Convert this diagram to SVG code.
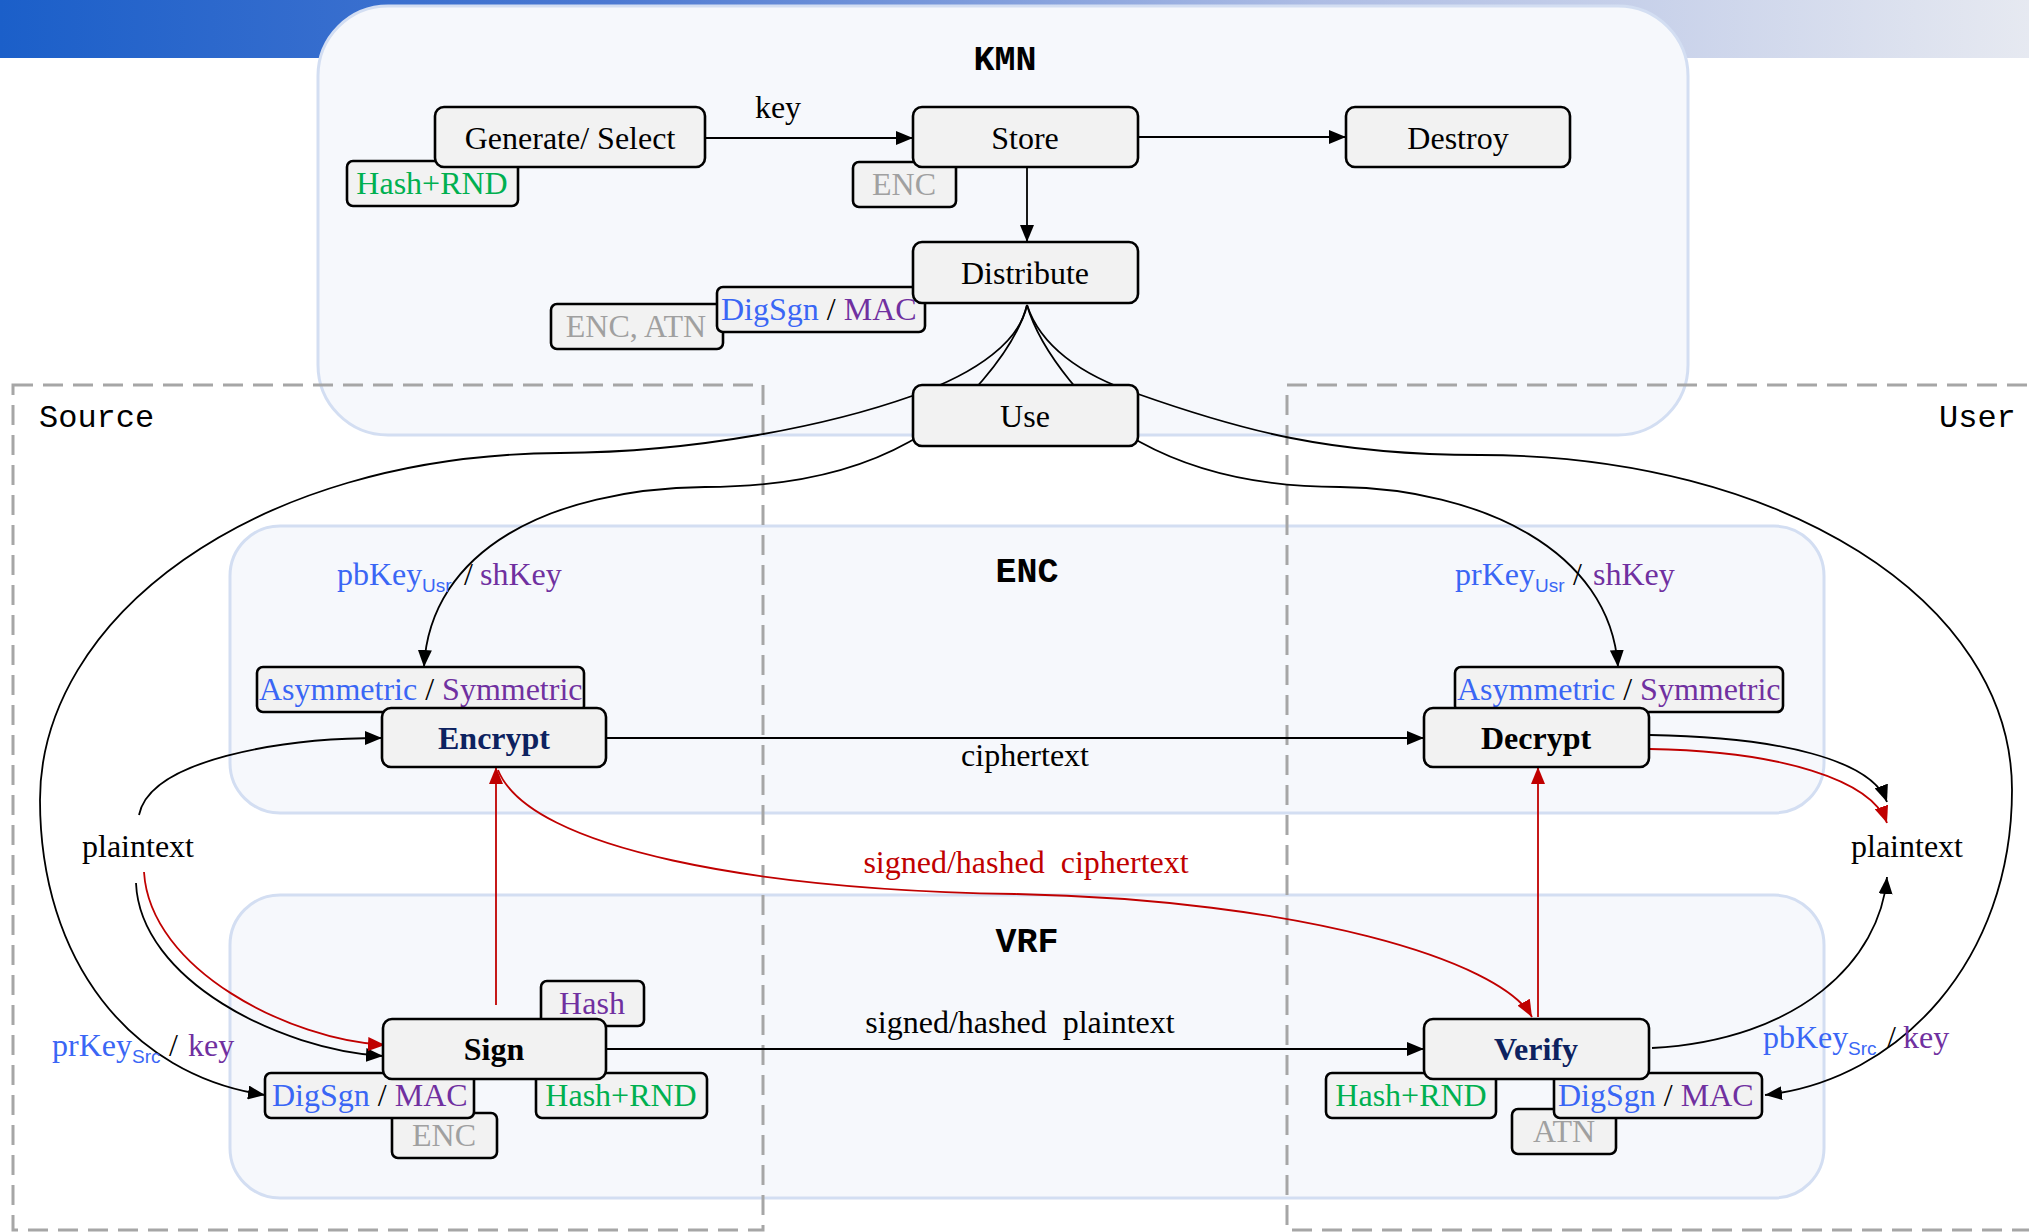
<svg xmlns="http://www.w3.org/2000/svg" width="2029" height="1232" viewBox="0 0 2029 1232">
<defs>
<linearGradient id="hdr" x1="0" y1="0" x2="1" y2="0">
<stop offset="0" stop-color="#1b5fc9"/>
<stop offset="0.3" stop-color="#4c79d2"/>
<stop offset="0.65" stop-color="#aebde4"/>
<stop offset="1" stop-color="#e6e9f1"/>
</linearGradient>
<marker id="ab" markerUnits="userSpaceOnUse" markerWidth="18" markerHeight="14" refX="17" refY="7" orient="auto"><path d="M0,0 L17,7 L0,14 z" fill="#000"/></marker>
<marker id="ar" markerUnits="userSpaceOnUse" markerWidth="18" markerHeight="14" refX="17" refY="7" orient="auto"><path d="M0,0 L17,7 L0,14 z" fill="#c00000"/></marker>
</defs>
<style>
.cont{fill:#f6f8fc;stroke:#d3def2;stroke-width:3}
.dash{fill:none;stroke:#a6a6a6;stroke-width:3;stroke-dasharray:20 10}
.box{fill:#f2f2f2;stroke:#000;stroke-width:2.6}
.t{font-family:"Liberation Serif","Times New Roman",serif;font-size:32px;fill:#000}
.m{text-anchor:middle}
.b{font-weight:bold}
.nv{fill:#0d2260}
.mono{font-family:"Liberation Mono","Courier New",monospace;font-size:32px;fill:#000}
.hd{font-weight:bold;font-size:35px;text-anchor:middle}
.bl{fill:#3a66f5}
.pu{fill:#7030a0}
.gr{fill:#00b050}
.gy{fill:#a0a0a0}
.rd{fill:#c00000}
.sub{font-family:"Liberation Sans",Arial,sans-serif;font-size:19px}
.e{fill:none;stroke:#000;stroke-width:1.8}
.er{fill:none;stroke:#c00000;stroke-width:1.8}
</style>
<rect x="0" y="0" width="2029" height="58" fill="url(#hdr)"/>

<g id="containers">
<rect id="kmn" class="cont" x="318" y="6" width="1370" height="429" rx="70"/>
<rect id="enc" class="cont" x="230" y="526" width="1594" height="287" rx="50"/>
<rect id="vrf" class="cont" x="230" y="895" width="1594" height="303" rx="50"/>
<text class="mono hd" x="1005" y="70">KMN</text>
<text class="mono hd" x="1027" y="582">ENC</text>
<text class="mono hd" x="1027" y="952">VRF</text>
</g>

<g id="zones">
<rect id="source" class="dash" x="13" y="385" width="750" height="845"/>
<rect id="user" class="dash" x="1287" y="385" width="760" height="845"/>
<text class="mono" x="39" y="427">Source</text>
<text class="mono" x="1939" y="427">User</text>
</g>

<g id="connectors">
<path class="e" d="M705,138 L913,138" marker-end="url(#ab)"/>
<text class="t m" x="778" y="118">key</text>
<path class="e" d="M1138,137 L1346,137" marker-end="url(#ab)"/>
<path class="e" d="M1027,167 L1027,242" marker-end="url(#ab)"/>
<path class="e" d="M1027,305 C1020,340 980,372 912,396 C830,425 700,452 560,453 C250,455 40,620 40,800 C40,960 130,1075 265,1095" marker-end="url(#ab)"/>
<path class="e" d="M1027,305 C1015,350 960,415 909,442 C850,475 780,487 705,487 C550,489 430,550 424,667" marker-end="url(#ab)"/>
<path class="e" d="M1027,305 C1040,350 1090,415 1140,442 C1200,475 1270,487 1340,487 C1480,489 1610,550 1618,667" marker-end="url(#ab)"/>
<path class="e" d="M1027,305 C1040,345 1080,375 1138,394 C1240,430 1330,455 1480,455 C1780,455 2012,600 2012,790 C2012,960 1900,1080 1765,1095" marker-end="url(#ab)"/>
<path class="e" d="M606,738 L1424,738" stroke-width="2.4" marker-end="url(#ab)"/>
<text class="t m" x="1025" y="766">ciphertext</text>
<path class="e" d="M606,1049 L1424,1049" stroke-width="2.4" marker-end="url(#ab)"/>
<text class="t m" x="1020" y="1033">signed/hashed&#160; plaintext</text>
<path class="e" d="M139,815 C150,760 280,738 382,738" marker-end="url(#ab)"/>
<path class="e" d="M136,883 C140,980 280,1050 383,1056" marker-end="url(#ab)"/>
<path class="er" d="M144,872 C150,970 290,1040 385,1045" marker-end="url(#ar)"/>
<path class="er" d="M496,1005 L496,767" marker-end="url(#ar)"/>
<path class="er" d="M498,770 C530,850 760,890 1015,894 C1300,900 1500,960 1532,1017" marker-end="url(#ar)"/>
<text class="t m rd" x="1026" y="873">signed/hashed&#160; ciphertext</text>
<path class="er" d="M1538,1017 L1538,767" marker-end="url(#ar)"/>
<path class="e" d="M1650,735 C1780,737 1872,760 1887,802" marker-end="url(#ab)"/>
<path class="er" d="M1650,749 C1780,751 1872,780 1887,823" marker-end="url(#ar)"/>
<path class="e" d="M1652,1048 C1800,1040 1880,960 1887,877" marker-end="url(#ab)"/>
<text class="t m" x="138" y="857">plaintext</text>
<text class="t m" x="1907" y="857">plaintext</text>
<text class="t"><tspan class="bl" x="337" y="585">pbKey</tspan><tspan class="bl sub" x="422" y="592">Usr</tspan><tspan x="464" y="585">/</tspan><tspan class="pu" x="480" y="585">shKey</tspan></text>
<text class="t"><tspan class="bl" x="1455" y="585">prKey</tspan><tspan class="bl sub" x="1535" y="592">Usr</tspan><tspan x="1573" y="585">/</tspan><tspan class="pu" x="1593" y="585">shKey</tspan></text>
<text class="t"><tspan class="bl" x="52" y="1056">prKey</tspan><tspan class="bl sub" x="132" y="1063">Src</tspan><tspan x="169" y="1056">/</tspan><tspan class="pu" x="188" y="1056">key</tspan></text>
<text class="t"><tspan class="bl" x="1763" y="1048">pbKey</tspan><tspan class="bl sub" x="1848" y="1055">Src</tspan><tspan x="1887" y="1048">/</tspan><tspan class="pu" x="1903" y="1048">key</tspan></text>
</g>

<g id="generate">
<rect class="box" x="347" y="161" width="171" height="45" rx="6"/>
<text class="t m gr" x="432" y="194">Hash+RND</text>
<rect class="box" x="435" y="107" width="270" height="60" rx="9"/>
<text class="t m" x="570" y="149">Generate/ Select</text>
</g>
<g id="store">
<rect class="box" x="853" y="162" width="103" height="45" rx="6"/>
<text class="t m gy" x="904" y="195">ENC</text>
<rect class="box" x="913" y="107" width="225" height="60" rx="9"/>
<text class="t m" x="1025" y="149">Store</text>
</g>
<g id="destroy">
<rect class="box" x="1346" y="107" width="224" height="60" rx="9"/>
<text class="t m" x="1458" y="149">Destroy</text>
</g>
<g id="distribute">
<rect class="box" x="551" y="304" width="172" height="45" rx="6"/>
<text class="t m gy" x="636" y="337">ENC, ATN</text>
<rect class="box" x="717" y="287" width="208" height="45" rx="6"/>
<text class="t" x="721" y="320"><tspan class="bl">DigSgn</tspan> / <tspan class="pu">MAC</tspan></text>
<rect class="box" x="913" y="242" width="225" height="61" rx="9"/>
<text class="t m" x="1025" y="284">Distribute</text>
</g>
<g id="use">
<rect class="box" x="913" y="385" width="225" height="61" rx="9"/>
<text class="t m" x="1025" y="427">Use</text>
</g>
<g id="encrypt">
<rect class="box" x="257" y="667" width="327" height="45" rx="6"/>
<text class="t" x="259" y="700"><tspan class="bl">Asymmetric</tspan> / <tspan class="pu">Symmetric</tspan></text>
<rect class="box" x="382" y="708" width="224" height="59" rx="9"/>
<text class="t m b nv" x="494" y="749">Encrypt</text>
</g>
<g id="decrypt">
<rect class="box" x="1455" y="667" width="328" height="45" rx="6"/>
<text class="t" x="1457" y="700"><tspan class="bl">Asymmetric</tspan> / <tspan class="pu">Symmetric</tspan></text>
<rect class="box" x="1424" y="708" width="225" height="59" rx="9"/>
<text class="t m b" x="1536" y="749">Decrypt</text>
</g>
<g id="sign">
<rect class="box" x="541" y="981" width="103" height="45" rx="6"/>
<text class="t m pu" x="592" y="1014">Hash</text>
<rect class="box" x="392" y="1113" width="105" height="45" rx="6"/>
<text class="t m gy" x="444" y="1146">ENC</text>
<rect class="box" x="265" y="1073" width="209" height="45" rx="6"/>
<text class="t" x="272" y="1106"><tspan class="bl">DigSgn</tspan> / <tspan class="pu">MAC</tspan></text>
<rect class="box" x="536" y="1073" width="171" height="45" rx="6"/>
<text class="t m gr" x="621" y="1106">Hash+RND</text>
<rect class="box" x="383" y="1019" width="223" height="60" rx="9"/>
<text class="t m b" x="494" y="1060">Sign</text>
</g>
<g id="verify">
<rect class="box" x="1326" y="1073" width="170" height="45" rx="6"/>
<text class="t m gr" x="1411" y="1106">Hash+RND</text>
<rect class="box" x="1512" y="1109" width="104" height="45" rx="6"/>
<text class="t m gy" x="1564" y="1142">ATN</text>
<rect class="box" x="1554" y="1073" width="208" height="45" rx="6"/>
<text class="t" x="1558" y="1106"><tspan class="bl">DigSgn</tspan> / <tspan class="pu">MAC</tspan></text>
<rect class="box" x="1424" y="1019" width="225" height="60" rx="9"/>
<text class="t m b nv" x="1536" y="1060">Verify</text>
</g>
</svg>
